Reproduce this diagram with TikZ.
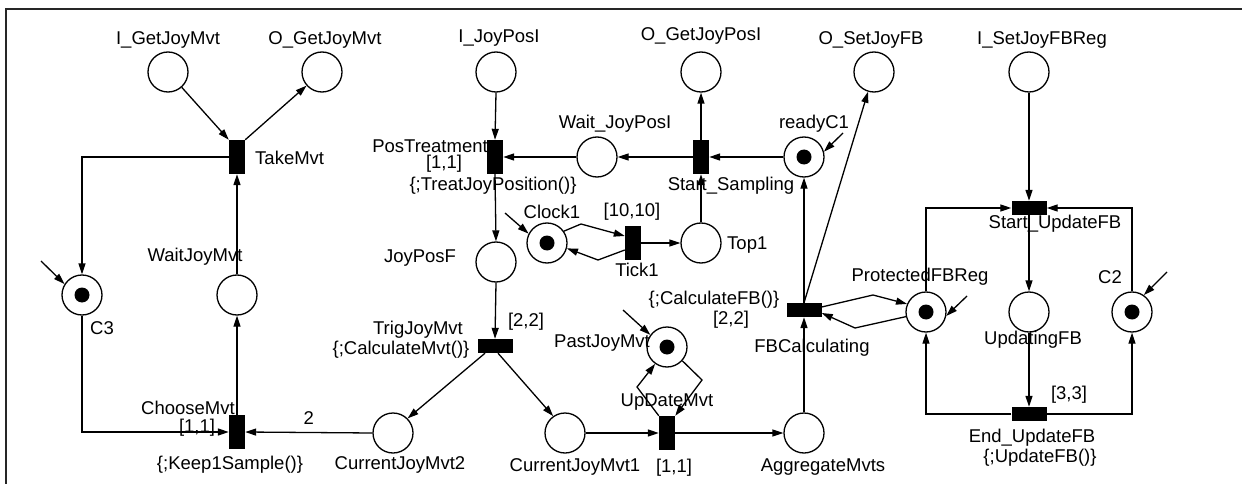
\documentclass[tikz,border=0pt]{standalone}
\usepackage{fontspec}
\setmainfont{Liberation Sans}
\usetikzlibrary{arrows.meta}
\tikzset{
  place/.style={circle,draw,line width=1.3pt,minimum size=40pt,inner sep=0pt},
  mplace/.style={place,path picture={\fill (path picture bounding box.center) circle (7.5pt);}},
  trans/.style={rectangle,fill=black,minimum width=16pt,minimum height=34pt,inner sep=0pt},
  htrans/.style={trans,minimum width=35pt,minimum height=14pt},
  flow/.style={line width=1.3pt,-{Triangle[length=11pt,width=7pt]}},
  lbl/.style={inner sep=0pt,font=\fontsize{18.5}{20}\selectfont}
}
\begin{document}
\begin{tikzpicture}[x=1pt,y=-1pt]
  \useasboundingbox (0,0) rectangle (1242,484);
  % frame
  \draw[line width=1.5pt,black!85] (6,484) -- (6,9) -- (1242,9);
  % places
  \node[place]  (iGetJoyMvt)  at (168,72)  {};
  \node[place]  (oGetJoyMvt)  at (322,72)  {};
  \node[mplace] (cThree)      at (82,295)  {};
  \node[place]  (waitJoyMvt)  at (237,295) {};
  \node[place]  (iJoyPos)     at (496,72)  {};
  \node[place]  (waitJoyPos)  at (597,157) {};
  \node[place]  (oGetJoyPos)  at (701,72)  {};
  \node[mplace] (readyCOne)   at (804,157) {};
  \node[place]  (oSetJoyFB)   at (874,72)  {};
  \node[place]  (iSetJoyFBReg) at (1029,72) {};
  \node[mplace] (clockOne)    at (547,243) {};
  \node[place]  (topOne)      at (701,243) {};
  \node[place]  (joyPosF)     at (496,262) {};
  \node[mplace] (pastJoyMvt)  at (667,347) {};
  \node[place]  (curJoyMvtTwo) at (393,433) {};
  \node[place]  (curJoyMvtOne) at (565,433) {};
  \node[place]  (aggMvts)     at (804,433) {};
  \node[mplace] (protFBReg)   at (926,312) {};
  \node[place]  (updatingFB)  at (1029,312) {};
  \node[mplace] (cTwo)        at (1132,312) {};
  % transitions
  \node[trans]  (takeMvt)     at (237,157) {};
  \node[trans]  (chooseMvt)   at (237,432) {};
  \node[trans]  (posTreat)    at (495,157) {};
  \node[trans]  (startSampl)  at (701,157) {};
  \node[trans]  (tickOne)     at (633,243) {};
  \node[htrans] (trigJoyMvt)  at (495,346) {};
  \node[trans]  (upDateMvt)   at (667,433) {};
  \node[htrans] (fbCalc)      at (804,310) {};
  \node[htrans] (startUpdFB)  at (1029,208) {};
  \node[htrans] (endUpdFB)    at (1029,414) {};
  % labels
  \node[lbl] (lIGetJoyMvt) at (168,40) {I\_GetJoyMvt};
  \node[lbl] (lOGetJoyMvt) at (325,40) {O\_GetJoyMvt};
  \node[lbl,anchor=west] (lTakeMvt) at (255,158) {TakeMvt};
  \node[lbl] (lWaitJoyMvt) at (195,257) {WaitJoyMvt};
  \node[lbl,anchor=west] (lCThree) at (90,328) {C3};
  \node[lbl] (lChooseMvt) at (188,408) {ChooseMvt};
  \node[lbl] (lChooseT) at (197,428) {[1,1]};
  \node[lbl] (lKeep) at (230,465) {\{;Keep1Sample()\}};
  \node[lbl] (lCurTwo) at (400,465) {CurrentJoyMvt2};
  \node[lbl] (lIJoyPos) at (499,38) {I\_JoyPosI};
  \node[lbl] (lPosTreat) at (430,146) {PosTreatment};
  \node[lbl] (lPosT) at (444,164) {[1,1]};
  \node[lbl] (lTreatFn) at (493,186) {\{;TreatJoyPosition()\}};
  \node[lbl] (lWaitJoyPos) at (615,124) {Wait\_JoyPosI};
  \node[lbl] (lOGetJoyPos) at (701,36) {O\_GetJoyPosI};
  \node[lbl] (lReadyCOne) at (814,124) {readyC1};
  \node[lbl] (lStartSampl) at (731,186) {Start\_Sampling};
  \node[lbl] (lOSetJoyFB) at (871,40) {O\_SetJoyFB};
  \node[lbl] (lISetJoyFBReg) at (1042,40) {I\_SetJoyFBReg};
  \node[lbl] (lStartUpdFB) at (1055,224) {Start\_UpdateFB};
  \node[lbl] (lClockOne) at (552,212) {Clock1};
  \node[lbl] (lTickT) at (632,212) {[10,10]};
  \node[lbl] (lTickOne) at (637,270) {Tick1};
  \node[lbl,anchor=west] (lTopOne) at (727,245) {Top1};
  \node[lbl] (lJoyPosF) at (420,258) {JoyPosF};
  \node[lbl] (lTrigJoyMvt) at (418,330) {TrigJoyMvt};
  \node[lbl] (lCalcMvt) at (401,350) {\{;CalculateMvt()\}};
  \node[lbl] (lTrigT) at (526,322) {[2,2]};
  \node[lbl] (lPastJoyMvt) at (602,343) {PastJoyMvt};
  \node[lbl] (lUpDateMvt) at (667,402) {UpDateMvt};
  \node[lbl] (lUpDateT) at (674,468) {[1,1]};
  \node[lbl] (lCurOne) at (575,467) {CurrentJoyMvt1};
  \node[lbl] (lAggMvts) at (823,467) {AggregateMvts};
  \node[lbl] (lCalcFB) at (714,300) {\{;CalculateFB()\}};
  \node[lbl] (lFBT) at (731,320) {[2,2]};
  \node[lbl] (lFBCalc) at (812,348) {FBCalculating};
  \node[lbl] (lProtFBReg) at (920,277) {ProtectedFBReg};
  \node[lbl] (lCTwo) at (1110,277) {C2};
  \node[lbl] (lUpdatingFB) at (1033,340) {UpdatingFB};
  \node[lbl] (lEndT) at (1069,395) {[3,3]};
  \node[lbl] (lEndUpdFB) at (1032,438) {End\_UpdateFB};
  \node[lbl] (lUpdFn) at (1040,458) {\{;UpdateFB()\}};
  % left part
  \draw[flow] (iGetJoyMvt) -- (takeMvt.north west);
  \draw[flow] (takeMvt.north east) -- (oGetJoyMvt);
  \draw[flow] (takeMvt.west) -| (cThree.north);
  \draw[flow] (cThree.south) |- (chooseMvt.west);
  \draw[flow] (chooseMvt.north) -- (waitJoyMvt.south);
  \draw[flow] (waitJoyMvt.north) -- (takeMvt.south);
  \draw[flow] (curJoyMvtTwo.west) -- node[lbl,above=7pt] (wTwo) {2} (chooseMvt.east);
  % sampling part
  \draw[flow] (iJoyPos.south) -- (posTreat.north);
  \draw[flow] (waitJoyPos.west) -- (posTreat.east);
  \draw[flow] (startSampl.west) -- (waitJoyPos.east);
  \draw[flow] (readyCOne.west) -- (startSampl.east);
  \draw[flow] (startSampl.north) -- (oGetJoyPos.south);
  \draw[flow] (topOne.north) -- (startSampl.south);
  \draw[flow] (posTreat.south) -- (joyPosF.north);
  \draw[flow] (clockOne.35) -- (581,224) -- ([yshift=7pt]tickOne.west);
  \draw[flow] ([yshift=-7pt]tickOne.west) -- (598,260) -- (clockOne.-15);
  \draw[flow] (tickOne.east) -- (topOne.west);
  \draw[flow] (joyPosF.south) -- (trigJoyMvt.north);
  \draw[flow] ([xshift=-10pt]trigJoyMvt.south) -- (curJoyMvtTwo.45);
  \draw[flow] ([xshift=3pt]trigJoyMvt.south) -- (curJoyMvtOne.125);
  \draw[flow] (curJoyMvtOne.east) -- (upDateMvt.west);
  \draw[flow] (upDateMvt.north west) -- (637,387) -- (pastJoyMvt.-125);
  \draw[flow] (pastJoyMvt.-42) -- (702,380) -- (upDateMvt.north east);
  \draw[flow] (upDateMvt.east) -- (aggMvts.west);
  \draw[flow] (aggMvts.north) -- (fbCalc.south);
  \draw[flow] (fbCalc.north) -- (readyCOne.south);
  \draw[flow] (fbCalc.north) -- (oSetJoyFB);
  \draw[flow] ([yshift=3pt]fbCalc.east) -- (873,295) -- (protFBReg.157);
  \draw[flow] (protFBReg.193) -- (855,328) -- ([yshift=-3pt]fbCalc.east);
  % update part
  \draw[flow] (iSetJoyFBReg.south) -- (startUpdFB.north);
  \draw[flow] (protFBReg.north) |- (startUpdFB.west);
  \draw[flow] (cTwo.north) |- (startUpdFB.east);
  \draw[flow] (startUpdFB.south) -- (updatingFB.north);
  \draw[flow] (updatingFB.south) -- (endUpdFB.north);
  \draw[flow] (endUpdFB.west) -| (protFBReg.south);
  \draw[flow] (endUpdFB.east) -| (cTwo.south);
  % initial marking arrows
  \coordinate (sCThree) at (41,261);
  \coordinate (sReady) at (843,133);
  \coordinate (sClock) at (505,213);
  \coordinate (sPast) at (623,310);
  \coordinate (sProt) at (967,296);
  \coordinate (sCTwo) at (1167,272);
  \draw[flow] (sCThree) -- (cThree.148);
  \draw[flow] (sReady) -- (readyCOne.15);
  \draw[flow] (sClock) -- (clockOne.153);
  \draw[flow] (sPast) -- (pastJoyMvt.144);
  \draw[flow] (sProt) -- (protFBReg.-11);
  \draw[flow] (sCTwo) -- (cTwo.55);
\end{tikzpicture}
\end{document}
